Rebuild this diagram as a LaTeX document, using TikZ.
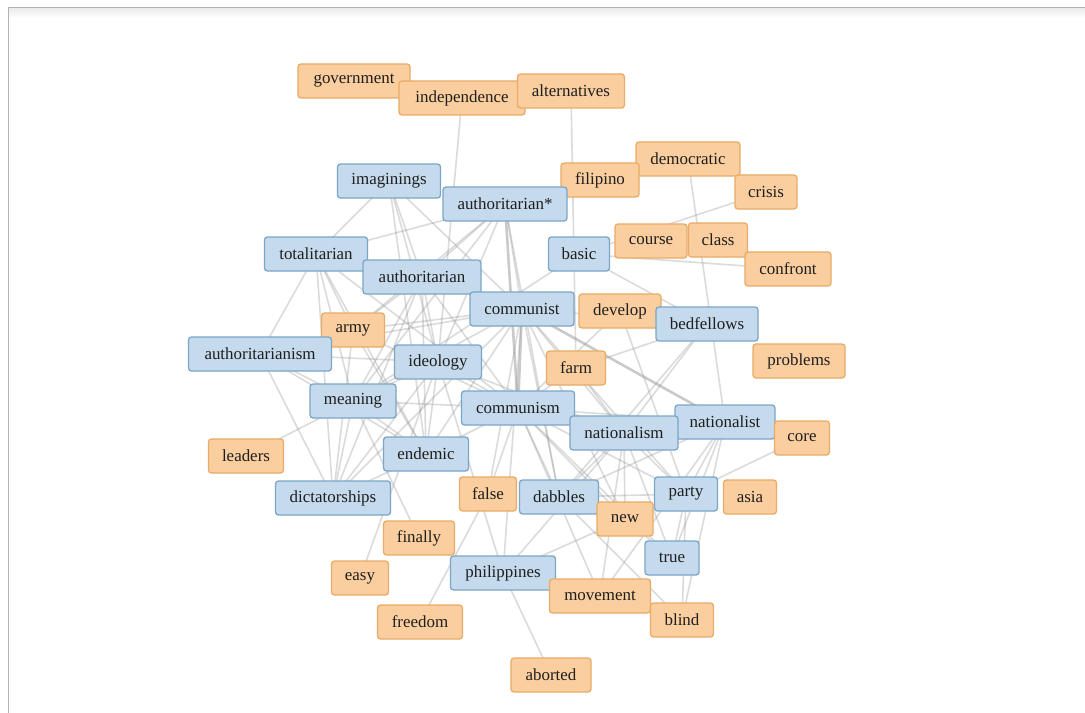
\documentclass[tikz,border=0pt]{standalone}
\usepackage{fontspec}
\setmainfont{Liberation Serif}
\usetikzlibrary{backgrounds}
\definecolor{ofill}{RGB}{250,206,158}
\definecolor{odraw}{RGB}{232,172,104}
\definecolor{bfill}{RGB}{197,218,236}
\definecolor{bdraw}{RGB}{122,166,200}
\definecolor{txt}{RGB}{30,30,30}
\definecolor{edgec}{RGB}{150,150,150}
\tikzset{
  nodebase/.style={rounded corners=3bp, line width=1.3bp, minimum height=34bp,
    inner xsep=4bp, inner ysep=0bp, text=txt,
    font=\fontsize{17}{20}\selectfont},
  ob/.style={nodebase, fill=ofill, draw=odraw, minimum width=#1},
  bb/.style={nodebase, fill=bfill, draw=bdraw, minimum width=#1},
  edge/.style={draw=edgec, draw opacity=0.34, line width=1.6bp},
  thickedge/.style={draw=edgec, draw opacity=0.5, line width=2.6bp}
}
\begin{document}
\begin{tikzpicture}[x=1bp,y=-1bp]
\useasboundingbox (0,0) rectangle (1085,713);

% nodes
\node[ob=112bp] (government) at (354,81) {government};
\node[ob=126bp] (independence) at (462,98) {independence};
\node[ob=107bp] (alternatives) at (571,91) {alternatives};
\node[ob=104bp] (democratic) at (688,159) {democratic};
\node[ob=78bp] (filipino) at (600,180) {filipino};
\node[ob=62bp] (crisis) at (766,192) {crisis};
\node[bb=103bp] (imaginings) at (389,181) {imaginings};
\node[bb=124bp] (authstar) at (505,204) {authoritarian*};
\node[bb=61bp] (basic) at (579,254) {basic};
\node[ob=72bp] (course) at (651,241) {course};
\node[ob=59bp] (class) at (718,240) {class};
\node[ob=86bp] (confront) at (788,269) {confront};
\node[bb=103bp] (totalitarian) at (316,254) {totalitarian};
\node[bb=118bp] (authoritarian) at (422,277) {authoritarian};
\node[bb=104bp] (communist) at (522,309) {communist};
\node[ob=82bp] (develop) at (620,311) {develop};
\node[bb=102bp] (bedfellows) at (707,324) {bedfellows};
\node[ob=63bp] (army) at (353,330) {army};
\node[bb=143bp] (authoritarianism) at (260,354) {authoritarianism};
\node[bb=87bp] (ideology) at (438,362) {ideology};
\node[ob=59bp] (farm) at (576,368) {farm};
\node[ob=92bp] (problems) at (799,361) {problems};
\node[bb=86bp] (meaning) at (353,401) {meaning};
\node[bb=113bp] (communism) at (518,408) {communism};
\node[bb=100bp] (nationalist) at (725,422) {nationalist};
\node[bb=108bp] (nationalism) at (624,433) {nationalism};
\node[ob=55bp] (core) at (802,438) {core};
\node[ob=75bp] (leaders) at (246,456) {leaders};
\node[bb=85bp] (endemic) at (426,454) {endemic};
\node[bb=115bp] (dictatorships) at (333,498) {dictatorships};
\node[ob=57bp] (false) at (488,494) {false};
\node[bb=79bp] (dabbles) at (559,497) {dabbles};
\node[bb=63bp] (party) at (686,494) {party};
\node[ob=53bp] (asia) at (750,497) {asia};
\node[ob=56bp] (new) at (625,519) {new};
\node[ob=71bp] (finally) at (419,538) {finally};
\node[bb=54bp] (true) at (672,558) {true};
\node[bb=105bp] (philippines) at (503,573) {philippines};
\node[ob=57bp] (easy) at (360,578) {easy};
\node[ob=101bp] (movement) at (600,596) {movement};
\node[ob=63bp] (blind) at (682,620) {blind};
\node[ob=85bp] (freedom) at (420,622) {freedom};
\node[ob=80bp] (aborted) at (551,675) {aborted};

\begin{scope}[on background layer]
\fill[white] (0,0) rectangle (1085,713);
\shade[top color=black!8, bottom color=white] (8.5,8) rectangle (1085,18);
\draw[black!30, line width=1bp] (8,713) -- (8,7.5) -- (1085,7.5);
\foreach \a/\b in {
 independence/ideology, alternatives/farm, democratic/nationalist, crisis/basic,
 basic/confront, basic/meaning, basic/bedfellows,
 imaginings/totalitarian, imaginings/authoritarian, imaginings/communist,
 imaginings/ideology, imaginings/endemic,
 authstar/totalitarian, authstar/communist, authstar/authoritarian,
 authstar/meaning, authstar/ideology, authstar/dabbles, authstar/army,
 totalitarian/authoritarianism, totalitarian/meaning, totalitarian/dictatorships,
 totalitarian/army, totalitarian/endemic, totalitarian/communism,
 authoritarian/army, authoritarian/ideology, authoritarian/communist,
 authoritarian/dictatorships, authoritarian/endemic, authoritarian/meaning,
 authoritarian/communism,
 communist/nationalism, communist/party, communist/army,
 communist/authoritarianism, communist/endemic, communist/dabbles, communist/new,
 communist/false, communist/meaning, communist/dictatorships,
 authoritarianism/meaning, authoritarianism/dictatorships,
 authoritarianism/endemic, authoritarianism/ideology,
 army/endemic, army/communism, army/dictatorships,
 ideology/communism, ideology/meaning, ideology/dictatorships, ideology/endemic,
 ideology/nationalism,
 meaning/communism, meaning/endemic, meaning/dictatorships, leaders/meaning,
 endemic/communism, endemic/dictatorships,
 communism/nationalist, communism/party, communism/new,
 communism/true, communism/dabbles, communism/movement, communism/false,
 farm/communism, farm/bedfellows, farm/nationalism,
 develop/party, develop/communism,
 bedfellows/nationalism, bedfellows/communist, bedfellows/dabbles,
 nationalism/party, nationalism/new, nationalism/true, nationalism/movement,
 nationalism/dabbles, nationalism/philippines,
 nationalist/party, nationalist/true, nationalist/blind, nationalist/dabbles,
 core/party, dabbles/party, dabbles/blind, new/philippines, new/true,
 party/true, party/blind, movement/nationalist,
 aborted/philippines, freedom/false, easy/ideology, finally/meaning,
 philippines/communist, philippines/ideology}
 \draw[edge] (\a.center) -- (\b.center);
\foreach \a/\b in {communist/communism, communist/nationalist,
 authstar/communism, communism/nationalism}
 \draw[thickedge] (\a.center) -- (\b.center);
\end{scope}
\end{tikzpicture}
\end{document}
